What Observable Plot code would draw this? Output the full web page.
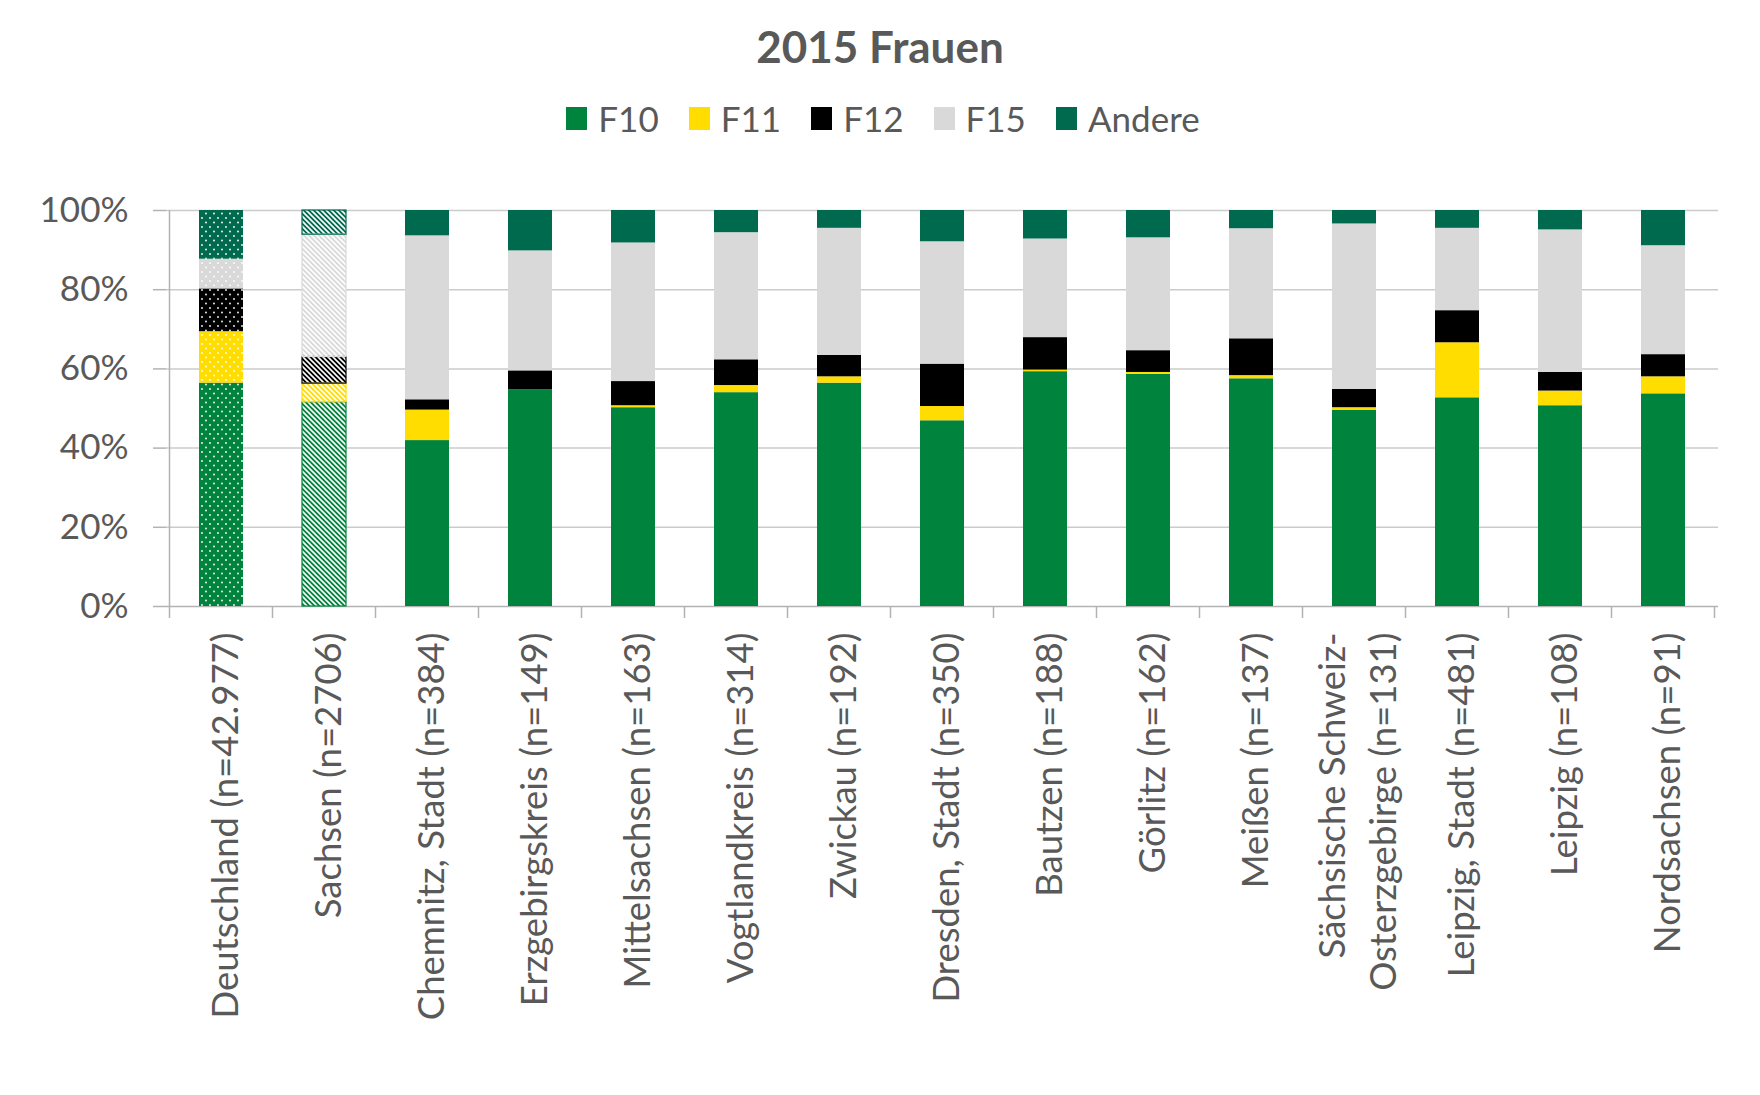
<!DOCTYPE html>
<html><head><meta charset="utf-8">
<script src="https://cdn.jsdelivr.net/npm/d3@7"></script>
<script src="https://cdn.jsdelivr.net/npm/@observablehq/plot@0.6"></script>
<style>
body{margin:0;background:#fff;font-family:Lato, sans-serif;}
#wrap{width:1760px;}
#title{height:92px;line-height:92px;text-align:center;font-weight:700;font-size:44px;color:#595959;}
#legend{height:52px;display:flex;justify-content:center;align-items:center;gap:30px;font-size:35px;color:#595959;padding-left:6px;}
.item{display:flex;align-items:center;gap:11px;}
.sw{width:21px;height:23px;display:inline-block;}
</style></head><body>
<svg width="0" height="0" style="position:absolute"><defs>
<pattern id="dots" width="8" height="9" patternUnits="userSpaceOnUse"><circle cx="2" cy="2" r="0.9" fill="#fff"/><circle cx="6" cy="6.5" r="0.9" fill="#fff"/></pattern>
<pattern id="stripes" width="5" height="5" patternUnits="userSpaceOnUse"><path d="M-1,-1L6,6M-1,4L1,6M4,-1L6,1" stroke="#fff" stroke-width="1.6"/></pattern>
</defs></svg>
<div id="wrap"><div id="title">2015 Frauen</div><div id="legend"></div><div id="chart"></div></div>
<script>
const regions = ["Deutschland (n=42.977)", "Sachsen (n=2706)", "Chemnitz, Stadt (n=384)", "Erzgebirgskreis (n=149)", "Mittelsachsen (n=163)", "Vogtlandkreis (n=314)", "Zwickau (n=192)", "Dresden, Stadt (n=350)", "Bautzen (n=188)", "Görlitz (n=162)", "Meißen (n=137)", "Sächsische Schweiz-\nOsterzgebirge (n=131)", "Leipzig, Stadt (n=481)", "Leipzig (n=108)", "Nordsachsen (n=91)"];
const series = ["F10", "F11", "F12", "F15", "Andere"];
const colors = ["#00843d", "#ffdd00", "#000000", "#d9d9d9", "#006a4e"];
const F10 = [56.4, 51.6, 41.9, 54.7, 50.2, 54.0, 56.4, 46.9, 59.3, 58.6, 57.5, 49.5, 52.7, 50.7, 53.7];
const F11 = [13.0, 4.7, 7.7, 0, 0.5, 1.8, 1.6, 3.6, 0.4, 0.5, 0.8, 0.7, 13.9, 3.7, 4.3];
const F12 = [10.8, 6.7, 2.6, 4.8, 6.1, 6.5, 5.4, 10.7, 8.2, 5.5, 9.3, 4.6, 8.1, 4.7, 5.6];
const F15 = [7.5, 30.9, 41.4, 30.3, 35.0, 32.1, 32.1, 30.9, 24.9, 28.5, 27.8, 41.8, 20.8, 36.0, 27.5];
const Andere = [12.3, 6.1, 6.4, 10.2, 8.2, 5.6, 4.5, 7.9, 7.2, 6.9, 4.6, 3.4, 4.5, 4.9, 8.9];
const yTicks = [0, 20, 40, 60, 80, 100];

const seriesValues = [F10, F11, F12, F15, Andere];
const data = [];
regions.forEach((r, i) => series.forEach((s, j) => data.push({region: r, series: s, value: seriesValues[j][i]})));

// legend
const leg = document.getElementById("legend");
series.forEach((s, j) => {
  const it = document.createElement("div"); it.className = "item";
  const sw = document.createElement("span"); sw.className = "sw"; sw.style.background = colors[j];
  const tx = document.createElement("span"); tx.textContent = s;
  it.appendChild(sw); it.appendChild(tx); leg.appendChild(it);
});

const gridC = "#cbcbcb", axisC = "#b3b3b3", textC = "#595959";
const plot = Plot.plot({
  width: 1760, height: 951,
  marginTop: 66, marginBottom: 489, marginLeft: 166, marginRight: 42,
  style: {fontFamily: "Lato, sans-serif", color: textC, background: "#fff"},
  x: {domain: regions, paddingInner: 0.575, paddingOuter: 0.2875, label: null},
  y: {domain: [0, 100], label: null},
  color: {domain: series, range: colors},
  marks: [
    Plot.gridY(yTicks.slice(1), {stroke: gridC, strokeOpacity: 1, strokeWidth: 1.5}),
    Plot.ruleY([0], {stroke: axisC, strokeWidth: 1.5}),
    Plot.axisY(yTicks, {tickFormat: d => d + "%", tickSize: 13, tickPadding: 25, fontSize: 35, stroke: axisC, strokeWidth: 1.5, fill: textC}),
    Plot.axisX({tickSize: 0, tickPadding: 26, tickRotate: -90, textAnchor: "end", fontSize: 36.5, fill: textC, lineHeight: 1.38}),
    Plot.barY(data, {x: "region", y: "value", fill: "series"}),
    Plot.barY(data.filter(d => d.region === regions[0]), {x: "region", y: "value", fill: "url(#dots)"}),
    Plot.barY(data.filter(d => d.region === regions[1]), {x: "region", y: "value", fill: "url(#stripes)", stroke: "series", strokeWidth: 1.2})
  ]
});

// category boundary ticks and y axis line, positioned through the plot's own scales
const xs = plot.scale("x"), ys = plot.scale("y");
const bw = xs.bandwidth;
const step = xs.step !== undefined ? xs.step : (xs.range[1] - xs.range[0]) / regions.length;
const y0 = ys.apply(0), y100 = ys.apply(100);
const g = d3.select(plot).append("g").attr("stroke", axisC).attr("stroke-width", 1.5);
const bounds = regions.map(r => xs.apply(r) + bw / 2 - step / 2);
bounds.push(bounds[bounds.length - 1] + step);
bounds.forEach(x => g.append("line").attr("x1", x).attr("x2", x).attr("y1", y0).attr("y2", y0 + 12));
g.append("line").attr("x1", bounds[0]).attr("x2", bounds[0]).attr("y1", y100).attr("y2", y0);

document.getElementById("chart").appendChild(plot);
</script>
</body></html>
